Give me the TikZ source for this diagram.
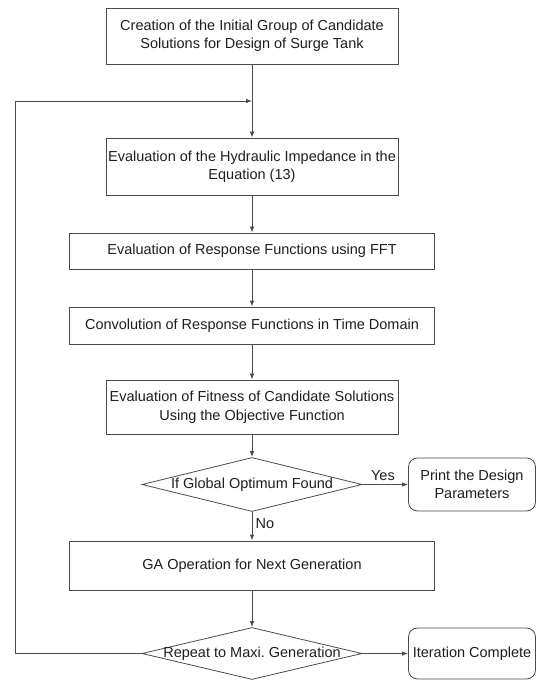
\documentclass[tikz,border=0pt]{standalone}
\usepackage{fontspec}
\setmainfont{Liberation Sans}
\usetikzlibrary{shapes.geometric,arrows.meta}
\definecolor{linegray}{RGB}{75,75,75}
\definecolor{textgray}{RGB}{30,30,30}
\tikzset{
  procbox/.style={draw=linegray, line width=0.8pt, align=center, text=textgray, inner sep=0pt,
    font=\fontsize{14.5}{18.5}\selectfont},
  decision/.style={draw=linegray, line width=0.8pt, diamond, aspect=4, align=center, text=textgray,
    inner xsep=-20pt, inner ysep=0pt, minimum width=220, minimum height=54,
    font=\fontsize{14.5}{18.5}\selectfont},
  endbox/.style={procbox, rounded corners=9pt, minimum width=127, minimum height=53},
  flow/.style={draw=linegray, line width=0.8pt, -{Latex[length=6pt,width=4.5pt]}},
  flowlabel/.style={text=textgray, font=\fontsize{14.5}{18.5}\selectfont}
}

\begin{document}
\begin{tikzpicture}[x=1pt, y=-1pt]
		%%%%% START %%%%%
		\useasboundingbox (0,0) rectangle (536,680);
		
		\node[procbox, minimum width=292, minimum height=56] (init) at (252, 36)
			{Creation of the Initial Group of Candidate\\Solutions for Design of Surge Tank};
		\coordinate (merge) at (252, 101);
		
		\node[procbox, minimum width=292, minimum height=57] (imped) at (252, 166.5)
			{Evaluation of the Hydraulic Impedance in the\\Equation (13)};
		\node[procbox, minimum width=365, minimum height=36] (fft) at (252, 251)
			{Evaluation of Response Functions using FFT};
		\node[procbox, minimum width=365, minimum height=37] (conv) at (252, 325.5)
			{Convolution of Response Functions in Time Domain};
		\node[procbox, minimum width=292, minimum height=54] (fitness) at (252, 407)
			{Evaluation of Fitness of Candidate Solutions\\Using the Objective Function};
		
		\node[decision] (optimum) at (252, 484.5) {If Global Optimum Found};
		\node[endbox] (print) at (472, 484.5) {Print the Design\\Parameters};
		
		\node[procbox, minimum width=365, minimum height=49] (ga) at (252, 565.5)
			{GA Operation for Next Generation};
		
		\node[decision, minimum height=52] (repeat) at (252, 653.5) {Repeat to Maxi.\ Generation};
		\node[endbox, minimum height=51] (done) at (472, 653.5) {Iteration Complete};
		
		% main flow
		\draw[flow] (init) -- (imped);
		\draw[flow] (imped) -- (fft);
		\draw[flow] (fft) -- (conv);
		\draw[flow] (conv) -- (fitness);
		\draw[flow] (fitness) -- (optimum);
		\draw[flow] (optimum) -- node[flowlabel, above, pos=0.45] {Yes} (print);
		\draw[flow] (optimum) -- node[flowlabel, right, pos=0.42] {No} (ga);
		\draw[flow] (ga) -- (repeat);
		\draw[flow] (repeat) -- (done);
		
		% loop back
		\draw[flow] (repeat.west) -- (15, 653.5) |- (merge);
		
		%%%%% END %%%%%
	\end{tikzpicture}
\end{document}
